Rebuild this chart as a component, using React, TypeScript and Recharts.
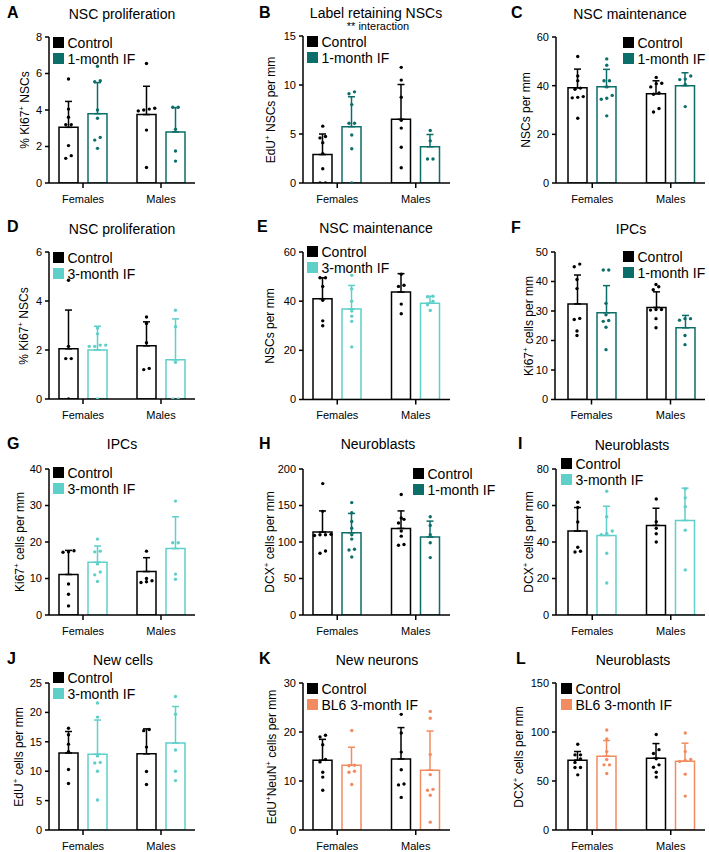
import React from "react";
import { ComposedChart, Bar, Scatter, XAxis, YAxis, ErrorBar } from "recharts";

const FONT = '"Liberation Sans", Arial, Helvetica, sans-serif';
const TEAL = "#0b6e69";
const CYAN = "#5fcfca";
const ORANGE = "#f28b60";
const BAR = 19;
const GAP = 10;
const JITTER = 5.5;
const DOT_GAP = 4;

const groups = ["Females", "Males"];

// [mean, SD] per group (Females, Males); dots = individual mice
const aTicks = [0, 2, 4, 6, 8];
const aControl = [[3.05, 1.42], [3.75, 1.55]];
const aTreat = [[3.8, 1.7], [2.8, 1.33]];
const aControlDots = [[5.7, 4.05, 3.6, 3.2, 3.2, 2.05, 1.5, 1.35], [6.55, 4.1, 4.05, 4.0, 3.95, 2.9, 0.85]];
const aTreatDots = [[6.4, 5.6, 5.55, 4.0, 3.55, 2.5, 2.35, 1.9], [4.15, 4.15, 2.95, 1.75, 1.2]];

const bTicks = [0, 5, 10, 15];
const bControl = [[2.9, 2.1], [6.5, 3.55]];
const bTreat = [[5.75, 3.05], [3.7, 1.25]];
const bControlDots = [[5.8, 4.75, 4.6, 4.1, 3.0, 1.45, 0, 0], [11.8, 10.5, 8.75, 6.4, 5.6, 3.65, 1.55]];
const bTreatDots = [[9.3, 9.1, 8.0, 6.1, 6.1, 4.9, 3.5, 0], [5.35, 4.3, 2.45, 2.45]];

const cTicks = [0, 20, 40, 60];
const cControl = [[39.1, 7.7], [36.7, 5.3]];
const cTreat = [[39.6, 7.1], [40, 5.3]];
const cControlDots = [[52, 44, 42, 39, 38.5, 35.5, 35.2, 35, 26.6], [43.4, 41, 40.8, 39.5, 37, 36.5, 30.6, 29.2]];
const cTreatDots = [[51, 48.4, 42, 42, 39.5, 36, 34.8, 34.4, 27.6], [44, 42.7, 42.5, 40.5, 31.4]];

const dTicks = [0, 2, 4, 6];
const dControl = [[2.05, 1.58], [2.17, 0.98]];
const dTreat = [[2.0, 0.97], [1.6, 1.67]];
const dControlDots = [[4.85, 2.15, 1.65, 1.65, 0], [3.35, 3.08, 2.3, 1.25, 1.2]];
const dTreatDots = [[2.9, 2.66, 2.2, 2.2, 2.15, 2.15, 0], [3.62, 2.95, 1.5, 0, 0]];

const eTicks = [0, 20, 40, 60];
const eControl = [[41, 8.5], [43.7, 7.5]];
const eTreat = [[36.8, 9.6], [39.2, 2.8]];
const eControlDots = [[49.5, 49.5, 46, 40.4, 32, 30], [51, 46.5, 46, 38.8, 34.9]];
const eTreatDots = [[50.5, 45, 40, 36, 33.9, 31.8, 21.4], [42, 41.8, 40, 38.5, 36.2]];

const fTicks = [0, 10, 20, 30, 40, 50];
const fControl = [[32.4, 9.8], [31.2, 5.3]];
const fTreat = [[29.4, 9.2], [24.3, 4.2]];
const fControlDots = [[45.9, 45, 40.7, 37.6, 27.5, 27.1, 23.2, 21.7], [39, 38.2, 37.2, 30.5, 30.5, 30.3, 27.4, 24.3]];
const fTreatDots = [[43.9, 43.9, 32.6, 28.7, 26.8, 26.5, 24.5, 16.9], [27.4, 27.4, 26.9, 21.7, 18.6]];

const gTicks = [0, 10, 20, 30, 40];
const gControl = [[11.1, 6.6], [11.9, 3.8]];
const gTreat = [[14.45, 4.45], [18.2, 8.7]];
const gControlDots = [[17.6, 17.3, 17.2, 8.5, 5.7, 2.5], [17.5, 10, 9.4, 9.1, 8.9]];
const gTreatDots = [[20.8, 17.5, 17.3, 14, 11.8, 11, 9.2], [31.2, 19.8, 19.8, 11.2, 9.8]];

const hTicks = [0, 50, 100, 150, 200];
const hControl = [[113.6, 29], [118.6, 24]];
const hTreat = [[112.7, 26.4], [106.8, 21.8]];
const hControlDots = [[180, 142, 110.5, 110, 110, 109, 87.7, 84.5], [165, 133, 131, 126, 115, 108, 96.5, 95.5]];
const hTreatDots = [[154, 140, 128, 119, 110, 104, 90, 89, 79.5], [134.5, 122.7, 110, 99, 78.6]];

const iTicks = [0, 20, 40, 60, 80];
const iControl = [[46, 12.9], [49.1, 9.4]];
const iTreat = [[43.6, 16], [51.8, 17.7]];
const iControlDots = [[61.8, 58.9, 51, 37.1, 34.9, 34.5], [63.6, 51.1, 47.5, 44.5, 40]];
const iTreatDots = [[67.8, 53.8, 46, 44.7, 44, 33.8, 17.5], [69.1, 64.2, 59.3, 46.5, 24.7]];

const jTicks = [0, 5, 10, 15, 20, 25];
const jControl = [[13.1, 3.65], [12.95, 4.25]];
const jTreat = [[12.9, 5.8], [14.8, 6.2]];
const jControlDots = [[17.3, 16.2, 14.6, 13.3, 10.3, 7.9], [17.1, 16.9, 14.1, 9.95, 7.75]];
const jTreatDots = [[21.6, 19.2, 12.6, 11.5, 11.4, 10, 5.1], [22.7, 19.7, 13.6, 10, 8.4]];

const kTicks = [0, 10, 20, 30];
const kControl = [[14.25, 4.25], [14.5, 6.4]];
const kTreat = [[13.2, 3.7], [12.2, 8]];
const kControlDots = [[19.35, 19, 17.4, 14.4, 13.9, 11.8, 10.8, 8.1], [23.6, 19.8, 15.9, 12.3, 9.4, 9.2, 6.65]];
const kTreatDots = [[20.3, 13.2, 13.1, 12, 11.8, 9.3], [24.2, 22.8, 15.4, 11.3, 8.3, 8.1, 7.1, 1.6]];

const lTicks = [0, 50, 100, 150];
const lControl = [[71.3, 8.8], [73.3, 14.9]];
const lTreat = [[75.3, 16], [70.2, 18.4]];
const lControlDots = [[87.5, 76.7, 76.7, 72.6, 69, 63.8, 63.8, 56.3], [97.4, 82, 78, 72.6, 66.5, 64.1, 59, 54]];
const lTreatDots = [[102, 93, 80, 72, 66.5, 66.5, 57.7], [99, 80, 72, 71, 70, 57, 34.6]];

const col1 = { left: 49, right: 195, padL: -5, padR: -5 };
const col2 = { left: 303, right: 450, padL: -5, padR: -5 };
const col3 = { left: 556, right: 705, padL: -3, padR: -5 };

const panels = [
  { id: "A", title: "NSC proliferation", yLabel: "% Ki67^+ NSCs", ticks: aTicks, treatName: "1-month IF", color: TEAL,
    control: aControl, treat: aTreat, controlDots: aControlDots, treatDots: aTreatDots,
    box: { ...col1, top: 37, bottom: 183 }, titleAt: [122, 14], letterAt: [7, 13], yLabelX: 25, legendAt: [53, 37] },
  { id: "B", title: "Label retaining NSCs", sub: "** interaction", yLabel: "EdU^+ NSCs per mm", ticks: bTicks, treatName: "1-month IF", color: TEAL,
    control: bControl, treat: bTreat, controlDots: bControlDots, treatDots: bTreatDots,
    box: { ...col2, top: 36, bottom: 183 }, titleAt: [376, 13], letterAt: [259, 13], yLabelX: 271, legendAt: [307, 36] },
  { id: "C", title: "NSC maintenance", yLabel: "NSCs per mm", ticks: cTicks, treatName: "1-month IF", color: TEAL,
    control: cControl, treat: cTreat, controlDots: cControlDots, treatDots: cTreatDots,
    box: { ...col3, top: 37, bottom: 183 }, titleAt: [630, 14], letterAt: [511, 13], yLabelX: 526, legendAt: [623, 37] },
  { id: "D", title: "NSC proliferation", yLabel: "% Ki67^+ NSCs", ticks: dTicks, treatName: "3-month IF", color: CYAN,
    control: dControl, treat: dTreat, controlDots: dControlDots, treatDots: dTreatDots,
    box: { ...col1, top: 252, bottom: 399 }, titleAt: [122, 229], letterAt: [7, 227], yLabelX: 24, legendAt: [53, 252] },
  { id: "E", title: "NSC maintenance", yLabel: "NSCs per mm", ticks: eTicks, treatName: "3-month IF", color: CYAN,
    control: eControl, treat: eTreat, controlDots: eControlDots, treatDots: eTreatDots,
    box: { ...col2, top: 252, bottom: 399.5 }, titleAt: [376, 228], letterAt: [257, 227], yLabelX: 270, legendAt: [307, 246] },
  { id: "F", title: "IPCs", yLabel: "Ki67^+ cells per mm", ticks: fTicks, treatName: "1-month IF", color: TEAL,
    control: fControl, treat: fTreat, controlDots: fControlDots, treatDots: fTreatDots,
    box: { left: 555, right: 705, padL: -3, padR: -5, top: 252, bottom: 399.5 }, titleAt: [631, 229], letterAt: [511, 228], yLabelX: 529, legendAt: [623, 251] },
  { id: "G", title: "IPCs", yLabel: "Ki67^+ cells per mm", ticks: gTicks, treatName: "3-month IF", color: CYAN,
    control: gControl, treat: gTreat, controlDots: gControlDots, treatDots: gTreatDots,
    box: { ...col1, top: 469, bottom: 615 }, titleAt: [122, 444], letterAt: [7, 444], yLabelX: 20, legendAt: [53, 467] },
  { id: "H", title: "Neuroblasts", yLabel: "DCX^+ cells per mm", ticks: hTicks, treatName: "1-month IF", color: TEAL,
    control: hControl, treat: hTreat, controlDots: hControlDots, treatDots: hTreatDots,
    box: { ...col2, top: 469, bottom: 615 }, titleAt: [378, 444], letterAt: [259, 444], yLabelX: 270, legendAt: [413, 468] },
  { id: "I", title: "Neuroblasts", yLabel: "DCX^+ cells per mm", ticks: iTicks, treatName: "3-month IF", color: CYAN,
    control: iControl, treat: iTreat, controlDots: iControlDots, treatDots: iTreatDots,
    box: { ...col3, top: 469, bottom: 615 }, titleAt: [632, 445], letterAt: [518, 444], yLabelX: 529, legendAt: [561, 458] },
  { id: "J", title: "New cells", yLabel: "EdU^+ cells per mm", ticks: jTicks, treatName: "3-month IF", color: CYAN,
    control: jControl, treat: jTreat, controlDots: jControlDots, treatDots: jTreatDots,
    box: { ...col1, top: 683, bottom: 830 }, titleAt: [123, 660], letterAt: [7, 659], yLabelX: 19, legendAt: [53, 672] },
  { id: "K", title: "New neurons", yLabel: "EdU^+NeuN^+ cells per mm", ticks: kTicks, treatName: "BL6 3-month IF", color: ORANGE,
    control: kControl, treat: kTreat, controlDots: kControlDots, treatDots: kTreatDots,
    box: { ...col2, top: 683, bottom: 830 }, titleAt: [377, 660], letterAt: [259, 659], yLabelX: 272, legendAt: [307, 683] },
  { id: "L", title: "Neuroblasts", yLabel: "DCX^+ cells per mm", ticks: lTicks, treatName: "BL6 3-month IF", color: ORANGE,
    control: lControl, treat: lTreat, controlDots: lControlDots, treatDots: lTreatDots,
    box: { ...col3, top: 683, bottom: 830 }, titleAt: [633, 660], letterAt: [516, 659], yLabelX: 519, legendAt: [561, 683] },
];

// GraphPad-style scatter: points at nearly the same height are spread side by side
function swarm(vals: number[], max: number, plotH: number) {
  const px = vals.map((v) => (v / max) * plotH);
  const order = vals.map((_, i) => i).sort((a, b) => px[a] - px[b]);
  const off = new Array(vals.length).fill(0);
  let k = 0;
  while (k < order.length) {
    let j = k;
    while (j + 1 < order.length && px[order[j + 1]] - px[order[k]] < DOT_GAP) j++;
    const n = j - k + 1;
    for (let m = 0; m < n; m++) off[order[k + m]] = (m - (n - 1) / 2) * JITTER;
    k = j + 1;
  }
  return off;
}

function toPoints(dots: number[][], side: number, max: number, box: any) {
  const plotH = box.bottom - box.top;
  const upp = 2 / (box.right - box.left - box.padL - box.padR);
  const pts: { x: number; y: number }[] = [];
  dots.forEach((vals, gi) => {
    const off = swarm(vals, max, plotH);
    vals.forEach((v, k) => pts.push({ x: gi + 0.5 + ((side * (BAR + GAP)) / 2 + off[k]) * upp, y: v }));
  });
  return pts;
}

const dotShape = (color: string) => (props: any) => <circle cx={props.cx} cy={props.cy} r={1.7} fill={color} />;

function YLabel({ text, x, y }: { text: string; x: number; y: number }) {
  const parts = text.split("^+");
  return (
    <div style={{ position: "absolute", left: x, top: y, transform: "translate(-50%,-50%) rotate(-90deg)", whiteSpace: "nowrap", fontSize: 12, lineHeight: "13px" }}>
      {parts.map((s, i) => (
        <React.Fragment key={i}>
          {s}
          {i < parts.length - 1 && <sup style={{ fontSize: 8, lineHeight: 0 }}>+</sup>}
        </React.Fragment>
      ))}
    </div>
  );
}

function Legend2({ x, y, color, name }: { x: number; y: number; color: string; name: string }) {
  const row = (c: string, label: string) => (
    <div style={{ display: "flex", alignItems: "center", height: 16 }}>
      <div style={{ width: 11, height: 11, background: c, marginRight: 3.5 }} />
      <span>{label}</span>
    </div>
  );
  return (
    <div style={{ position: "absolute", left: x, top: y - 2.5, fontSize: 14, lineHeight: "16px", whiteSpace: "nowrap" }}>
      {row("#000", "Control")}
      {row(color, name)}
    </div>
  );
}

function Panel({ p }: { p: any }) {
  const box = p.box;
  const max = p.ticks[p.ticks.length - 1];
  const yW = 34, tp = 8, rp = 6, xh = 30;
  const plotW = box.right - box.left;
  const plotH = box.bottom - box.top;
  const rows = groups.map((g, i) => ({
    g,
    c: p.control[i][0],
    cErr: [0, p.control[i][1]],
    t: p.treat[i][0],
    tErr: [0, p.treat[i][1]],
  }));
  const ctrlPts = toPoints(p.controlDots, -1, max, box);
  const trtPts = toPoints(p.treatDots, 1, max, box);
  const axisStyle = { stroke: "#000", strokeWidth: 1.5 };
  return (
    <>
      <div style={{ position: "absolute", left: p.letterAt[0], top: p.letterAt[1], transform: "translateY(-50%)", fontSize: 16, fontWeight: "bold", lineHeight: 1 }}>{p.id}</div>
      <div style={{ position: "absolute", left: p.titleAt[0], top: p.titleAt[1], transform: "translate(-50%,-50%)", fontSize: 14, lineHeight: 1, whiteSpace: "nowrap" }}>{p.title}</div>
      {p.sub && (
        <div style={{ position: "absolute", left: p.titleAt[0] + 2, top: p.titleAt[1] + 13, transform: "translate(-50%,-50%)", fontSize: 11, lineHeight: 1, whiteSpace: "nowrap" }}>{p.sub}</div>
      )}
      <YLabel text={p.yLabel} x={p.yLabelX} y={(box.top + box.bottom) / 2} />
      <div style={{ position: "absolute", left: box.left - yW, top: box.top - tp }}>
        <ComposedChart width={yW + plotW + rp} height={tp + plotH + xh} data={rows} margin={{ top: tp, right: rp, bottom: 0, left: 0 }} barGap={GAP}>
          <XAxis xAxisId="cat" dataKey="g" height={xh} padding={{ left: box.padL, right: box.padR }} interval={0}
            tickSize={5} tickMargin={7} axisLine={axisStyle} tickLine={axisStyle} tick={{ fill: "#000", fontSize: 11 }} />
          <XAxis xAxisId="pts" type="number" dataKey="x" domain={[0, 2]} padding={{ left: box.padL, right: box.padR }} hide allowDataOverflow />
          <YAxis width={yW} type="number" domain={[0, max]} ticks={p.ticks} interval={0} allowDataOverflow
            tickSize={4} tickMargin={3} axisLine={axisStyle} tickLine={axisStyle} tick={{ fill: "#000", fontSize: 11 }} />
          <Bar xAxisId="cat" dataKey="c" fill="#fff" stroke="#000" strokeWidth={1.5} barSize={BAR} isAnimationActive={false}>
            <ErrorBar dataKey="cErr" width={3.5} stroke="#000" strokeWidth={1.5} />
          </Bar>
          <Bar xAxisId="cat" dataKey="t" fill="#fff" stroke={p.color} strokeWidth={1.5} barSize={BAR} isAnimationActive={false}>
            <ErrorBar dataKey="tErr" width={3.5} stroke={p.color} strokeWidth={1.5} />
          </Bar>
          <Scatter xAxisId="pts" data={ctrlPts} dataKey="y" shape={dotShape("#000")} legendType="none" isAnimationActive={false} />
          <Scatter xAxisId="pts" data={trtPts} dataKey="y" shape={dotShape(p.color)} legendType="none" isAnimationActive={false} />
        </ComposedChart>
      </div>
      <Legend2 x={p.legendAt[0]} y={p.legendAt[1]} color={p.color} name={p.treatName} />
    </>
  );
}

export default function App() {
  return (
    <div style={{ position: "absolute", left: 0, top: 0, width: 709, height: 852, background: "#fff", fontFamily: FONT, color: "#000", overflow: "hidden" }}>
      {panels.map((p) => (
        <Panel key={p.id} p={p} />
      ))}
    </div>
  );
}
